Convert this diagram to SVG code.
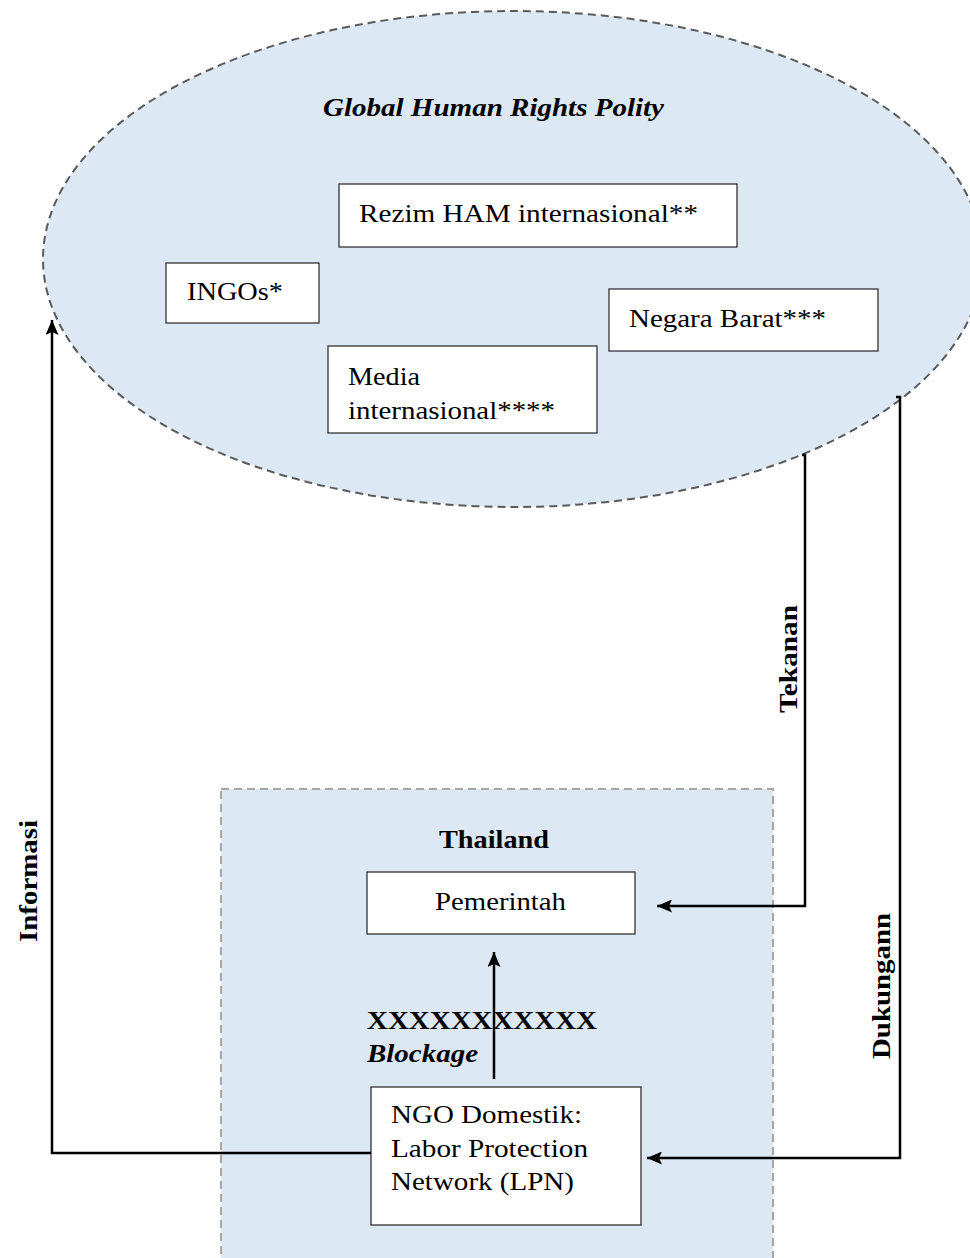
<svg xmlns="http://www.w3.org/2000/svg" width="970" height="1258" viewBox="0 0 970 1258">
<defs>
<marker id="arr" viewBox="0 0 15 13" refX="15" refY="6.5" markerWidth="15" markerHeight="13" markerUnits="userSpaceOnUse" orient="auto">
<path d="M0,0 L15,6.5 L0,13 L3,6.5 Z" fill="#000"/>
</marker>
</defs>
<style>
.region{fill:#dde8f5;stroke:#5a5a5a;stroke-width:2;stroke-dasharray:8,5}
.thai{fill:#dde8f5;stroke:#a6a6a6;stroke-width:2;stroke-dasharray:8,5}
.box{fill:#fff;stroke:#333;stroke-width:1.3}
.t{font-family:"Liberation Serif","Times New Roman",serif;font-size:26px;fill:#000}
.b{font-weight:bold}
.i{font-style:italic}
.lbl{font-family:"Liberation Serif","Times New Roman",serif;font-size:26px;font-weight:bold;fill:#000}
.c{fill:none;stroke:#000;stroke-width:2.5}
</style>
<g id="global">
<ellipse class="region" cx="513" cy="259" rx="470" ry="248"/>
<text class="t b i" x="323" y="116" font-size="26.5" textLength="341" lengthAdjust="spacingAndGlyphs">Global Human Rights Polity</text>
</g>
<g id="thailand">
<rect class="thai" x="221" y="789" width="552" height="480"/>
<text class="t b" x="439" y="848" textLength="110" lengthAdjust="spacingAndGlyphs">Thailand</text>
</g>
<g id="rezim">
<rect class="box" x="339" y="184" width="398" height="63"/>
<text class="t" x="359" y="222" textLength="339" lengthAdjust="spacingAndGlyphs">Rezim HAM internasional**</text>
</g>
<g id="ingos">
<rect class="box" x="166" y="263" width="153" height="60"/>
<text class="t" x="187" y="300" textLength="96" lengthAdjust="spacingAndGlyphs">INGOs*</text>
</g>
<g id="negara">
<rect class="box" x="609" y="289" width="269" height="62"/>
<text class="t" x="629" y="327" textLength="197" lengthAdjust="spacingAndGlyphs">Negara Barat***</text>
</g>
<g id="media">
<rect class="box" x="328" y="346" width="269" height="87"/>
<text class="t" x="348" y="385" textLength="72" lengthAdjust="spacingAndGlyphs">Media</text>
<text class="t" x="348" y="419" textLength="207" lengthAdjust="spacingAndGlyphs">internasional****</text>
</g>
<g id="pemerintah">
<rect class="box" x="367" y="872" width="268" height="62"/>
<text class="t" x="435" y="910" textLength="131" lengthAdjust="spacingAndGlyphs">Pemerintah</text>
</g>
<g id="ngo">
<rect class="box" x="371" y="1087" width="270" height="138"/>
<text class="t" x="391" y="1123" textLength="191" lengthAdjust="spacingAndGlyphs">NGO Domestik:</text>
<text class="t" x="391" y="1157" textLength="197" lengthAdjust="spacingAndGlyphs">Labor Protection</text>
<text class="t" x="391" y="1190" textLength="183" lengthAdjust="spacingAndGlyphs">Network (LPN)</text>
</g>
<g id="connectors">
<polyline class="c" points="371,1153 52,1153 52,320" marker-end="url(#arr)"/>
<polyline class="c" points="802,455 805,455 805,906 657,906" marker-end="url(#arr)"/>
<polyline class="c" points="896,397 900,397 900,1158 647,1158" marker-end="url(#arr)"/>
<line class="c" x1="494" y1="1079" x2="494" y2="952" marker-end="url(#arr)"/>
</g>
<g id="labels">
<text class="lbl" transform="translate(37,942) rotate(-90)" textLength="122" lengthAdjust="spacingAndGlyphs">Informasi</text>
<text class="lbl" transform="translate(797,713) rotate(-90)" textLength="108" lengthAdjust="spacingAndGlyphs">Tekanan</text>
<text class="lbl" transform="translate(890,1059) rotate(-90)" textLength="146" lengthAdjust="spacingAndGlyphs">Dukungann</text>
<text class="t b" x="367" y="1029" font-size="27" textLength="230" lengthAdjust="spacingAndGlyphs">XXXXXXXXXXX</text>
<text class="t b i" x="367" y="1062" textLength="111" lengthAdjust="spacingAndGlyphs">Blockage</text>
</g>
</svg>
